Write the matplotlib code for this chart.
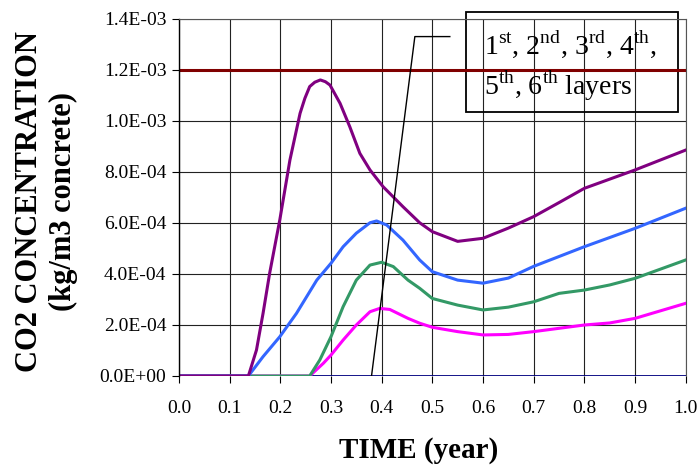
import matplotlib
matplotlib.use("Agg")
import matplotlib.pyplot as plt
from matplotlib.patches import Rectangle

plt.rcParams["font.family"] = ["Liberation Serif", "DejaVu Serif"]
plt.rcParams["mathtext.fontset"] = "custom"
plt.rcParams["mathtext.rm"] = "Liberation Serif"

# values (concentration in kg/m3)
x_layer1 = [0.0, 0.137, 0.153, 0.166, 0.179, 0.199, 0.219, 0.239, 0.2485, 0.258,
            0.268, 0.279, 0.289, 0.298, 0.318, 0.337, 0.357, 0.377, 0.403, 0.442,
            0.475, 0.50, 0.55, 0.60, 0.65, 0.70, 0.75, 0.80, 0.90, 1.00]
y_layer1 = [0.0, 0.0, 0.102, 0.246, 0.403, 0.612, 0.847, 1.030, 1.089, 1.135,
            1.152, 1.161, 1.154, 1.141, 1.069, 0.978, 0.873, 0.808, 0.742, 0.664,
            0.601, 0.566, 0.528, 0.540, 0.580, 0.625, 0.680, 0.736, 0.808, 0.886]

x_layer2 = [0.0, 0.137, 0.166, 0.199, 0.232, 0.272, 0.300, 0.324, 0.350, 0.377,
            0.390, 0.410, 0.442, 0.475, 0.50, 0.55, 0.60, 0.65, 0.70, 0.80,
            0.90, 1.00]
y_layer2 = [0.0, 0.0, 0.076, 0.154, 0.246, 0.376, 0.442, 0.507, 0.560, 0.601,
            0.608, 0.592, 0.533, 0.455, 0.409, 0.376, 0.364, 0.384, 0.430, 0.507,
            0.579, 0.658]

x_layer3 = [0.0, 0.258, 0.278, 0.300, 0.324, 0.350, 0.377, 0.400, 0.423, 0.452,
            0.475, 0.50, 0.55, 0.60, 0.65, 0.70, 0.75, 0.80, 0.85, 0.90, 1.00]
y_layer3 = [0.0, 0.0, 0.063, 0.154, 0.272, 0.376, 0.435, 0.446, 0.429, 0.376,
            0.344, 0.304, 0.278, 0.259, 0.270, 0.291, 0.324, 0.337, 0.357, 0.383,
            0.455]

x_layer4 = [0.0, 0.258, 0.285, 0.300, 0.324, 0.350, 0.377, 0.396, 0.416, 0.452,
            0.475, 0.50, 0.55, 0.60, 0.65, 0.70, 0.75, 0.80, 0.85, 0.90, 1.00]
y_layer4 = [0.0, 0.0, 0.050, 0.082, 0.141, 0.200, 0.252, 0.265, 0.261, 0.226,
            0.207, 0.191, 0.174, 0.161, 0.163, 0.174, 0.187, 0.200, 0.208, 0.226,
            0.285]

x_flat = [0.0, 1.0]
y_layer5 = [1.2, 1.2]
y_layer6 = [0.0, 0.0]

# pointer from the curves to the text box
x_pointer = [0.380, 0.4655, 0.5345]
y_pointer = [0.0, 1.331, 1.331]

scale = 1e-3


def main():
    fig = plt.figure(figsize=(6.99, 4.70), dpi=100)
    ax = fig.add_axes([0.256, 0.2, 0.725, 0.7596])

    ax.plot(x_flat, [v * scale for v in y_layer6], color="#000080", lw=2.0)
    ax.plot(x_layer4, [v * scale for v in y_layer4], color="#FF00FF", lw=2.2)
    ax.plot(x_layer3, [v * scale for v in y_layer3], color="#339966", lw=2.2)
    ax.plot(x_layer2, [v * scale for v in y_layer2], color="#3366FF", lw=2.2)
    ax.plot(x_layer1, [v * scale for v in y_layer1], color="#800080", lw=2.2)
    ax.plot(x_flat, [v * scale for v in y_layer5], color="#800000", lw=2.2)
    ax.plot(x_pointer, [v * scale for v in y_pointer], color="black", lw=1.0)

    ax.set_xlim(0, 1.0)
    ax.set_ylim(0, 1.4e-3)
    ax.set_xticks([i / 10 for i in range(11)])
    ax.set_yticks([i * 2e-4 for i in range(8)])
    ax.set_xticklabels([f"{i / 10:.1f}" for i in range(11)])
    ax.set_yticklabels([f"{v:.1E}" for v in [i * 2e-4 for i in range(8)]])
    ax.tick_params(direction="out", length=5, width=0.8, labelsize=14, pad=4)
    ax.tick_params(axis="x", pad=12)

    ax.grid(True, color="#222222", lw=0.8)
    ax.set_axisbelow(True)
    for side in ["top", "right"]:
        ax.spines[side].set_color("#555555")
    ax.spines["bottom"].set_visible(False)
    ax.spines["left"].set_linewidth(1.0)

    ax.set_xlabel("TIME (year)", fontsize=21, fontweight="bold")
    ax.xaxis.set_label_coords(0.473, -0.17)
    ax.set_ylabel("CO2 CONCENTRATION\n(kg/m3 concrete)", fontsize=22,
                  fontweight="bold", linespacing=1.2)
    ax.yaxis.set_label_coords(-0.2, 0.49)

    box = Rectangle((0.566, 1.035e-3), 0.418, 0.392e-3, fill=False,
                    edgecolor="black", lw=1.3, clip_on=False)
    ax.add_patch(box)
    ax.text(0.601, 1.30e-3,
            r"1$^{\rm st}$, 2$^{\rm nd}$, 3$^{\rm rd}$, 4$^{\rm th}$,",
            fontsize=20, va="center", ha="left")
    ax.text(0.601, 1.14e-3, r"5$^{\rm th}$, 6$^{\rm th}$ layers",
            fontsize=20, va="center", ha="left")

    plt.savefig("out.png", dpi=100)
    plt.close()


if __name__ == "__main__":
    main()
